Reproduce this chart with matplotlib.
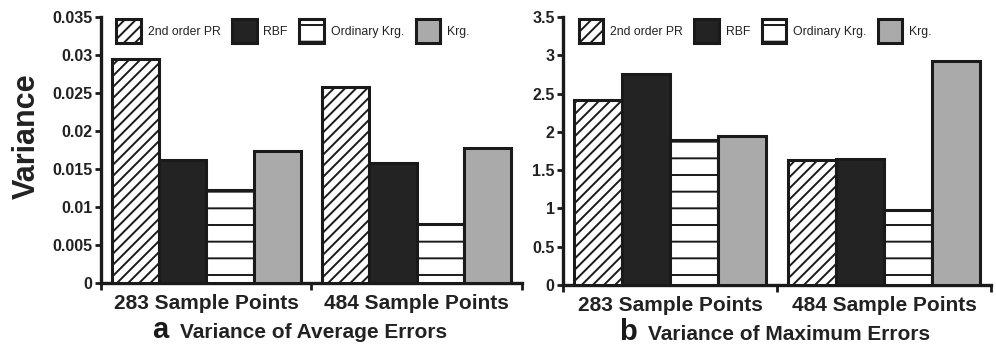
import matplotlib
matplotlib.use("Agg")
import matplotlib.pyplot as plt
import numpy as np
from matplotlib.ticker import FixedLocator

categories = ["283 Sample Points", "484 Sample Points"]
methods = ["2nd order PR", "RBF", "Ordinary Krg.", "Krg."]
avg_var = {
    "2nd order PR": [0.0295, 0.0258],
    "RBF": [0.0162, 0.0158],
    "Ordinary Krg.": [0.0122, 0.0078],
    "Krg.": [0.0174, 0.0177],
}
max_var = {
    "2nd order PR": [2.42, 1.63],
    "RBF": [2.75, 1.645],
    "Ordinary Krg.": [1.89, 0.98],
    "Krg.": [1.94, 2.92],
}
yticks_a = [0, 0.005, 0.01, 0.015, 0.02, 0.025, 0.03, 0.035]
yticklabels_a = ["0", "0.005", "0.01", "0.015", "0.02", "0.025", "0.03", "0.035"]
yticks_b = [0, 0.5, 1, 1.5, 2, 2.5, 3, 3.5]
yticklabels_b = ["0", "0.5", "1", "1.5", "2", "2.5", "3", "3.5"]

styles = {
    "2nd order PR": dict(facecolor="white", hatch="///"),
    "RBF": dict(facecolor="#232323", hatch=None),
    "Ordinary Krg.": dict(facecolor="white", hatch="-"),
    "Krg.": dict(facecolor="#aaaaaa", hatch=None),
}

plt.rcParams["font.family"] = ["Liberation Sans", "DejaVu Sans"]
plt.rcParams["hatch.linewidth"] = 1.4
plt.rcParams["hatch.color"] = "#1a1a1a"
TXT = "#222222"

fig = plt.figure(figsize=(9.96, 3.47), dpi=100)
ax_a = fig.add_axes([0.1014, 0.1844, 0.4227, 0.7666])
ax_b = fig.add_axes([0.5653, 0.1787, 0.4297, 0.7723])

bw = 0.225
x = np.arange(len(categories))


def draw(ax, data, yticks, ylabels, ymax, letter, title, lx, tx, ty):
    for i, m in enumerate(methods):
        st = styles[m]
        ax.bar(x - 1.5 * bw + i * bw, data[m], width=bw, facecolor=st["facecolor"],
               hatch=st["hatch"], edgecolor="#1a1a1a", linewidth=2.2, label=m, zorder=3)
    ax.set_xlim(-0.5, len(categories) - 0.5)
    ax.set_ylim(0, ymax)
    for s in ["top", "right"]:
        ax.spines[s].set_visible(False)
    for s in ["left", "bottom"]:
        ax.spines[s].set_linewidth(2.4)
        ax.spines[s].set_color("#1a1a1a")
    ax.set_yticks(yticks)
    ax.set_yticklabels(ylabels, fontsize=11.5, fontweight="bold", color=TXT)
    ax.tick_params(axis="y", length=4, width=2, pad=2, color="#1a1a1a")
    ax.set_xticks(x)
    ax.set_xticklabels(categories, fontsize=15, fontweight="bold", color=TXT)
    ax.tick_params(axis="x", which="major", length=0, pad=8)
    ax.xaxis.set_minor_locator(FixedLocator([-0.5, 0.5, 1.5]))
    ax.tick_params(axis="x", which="minor", length=5, width=2, color="#1a1a1a")
    leg = ax.legend(loc="upper left", bbox_to_anchor=(0.025, 1.012), ncol=4, frameon=False,
                    handlelength=2.0, handleheight=2.7, handletextpad=0.56,
                    columnspacing=0.95, borderaxespad=0,
                    prop=dict(size=8.8))
    for t in leg.get_texts():
        t.set_color(TXT)
    ax.text(lx, ty, letter, transform=ax.transAxes, fontsize=21, fontweight="bold",
            color="#1a1a1a", ha="left", va="baseline")
    ax.text(tx, ty, title, transform=ax.transAxes, fontsize=15, fontweight="bold",
            color=TXT, ha="left", va="baseline")


draw(ax_a, avg_var, yticks_a, yticklabels_a, 0.035, "a", "Variance of Average Errors",
     0.121, 0.188, -0.207)
draw(ax_b, max_var, yticks_b, yticklabels_b, 3.5, "b", "Variance of Maximum Errors",
     0.131, 0.199, -0.205)
ax_a.set_ylabel("Variance", fontsize=22, fontweight="bold", color=TXT)
ax_a.yaxis.set_label_coords(-0.140, 0.553)

fig.savefig("out.png", dpi=100)
